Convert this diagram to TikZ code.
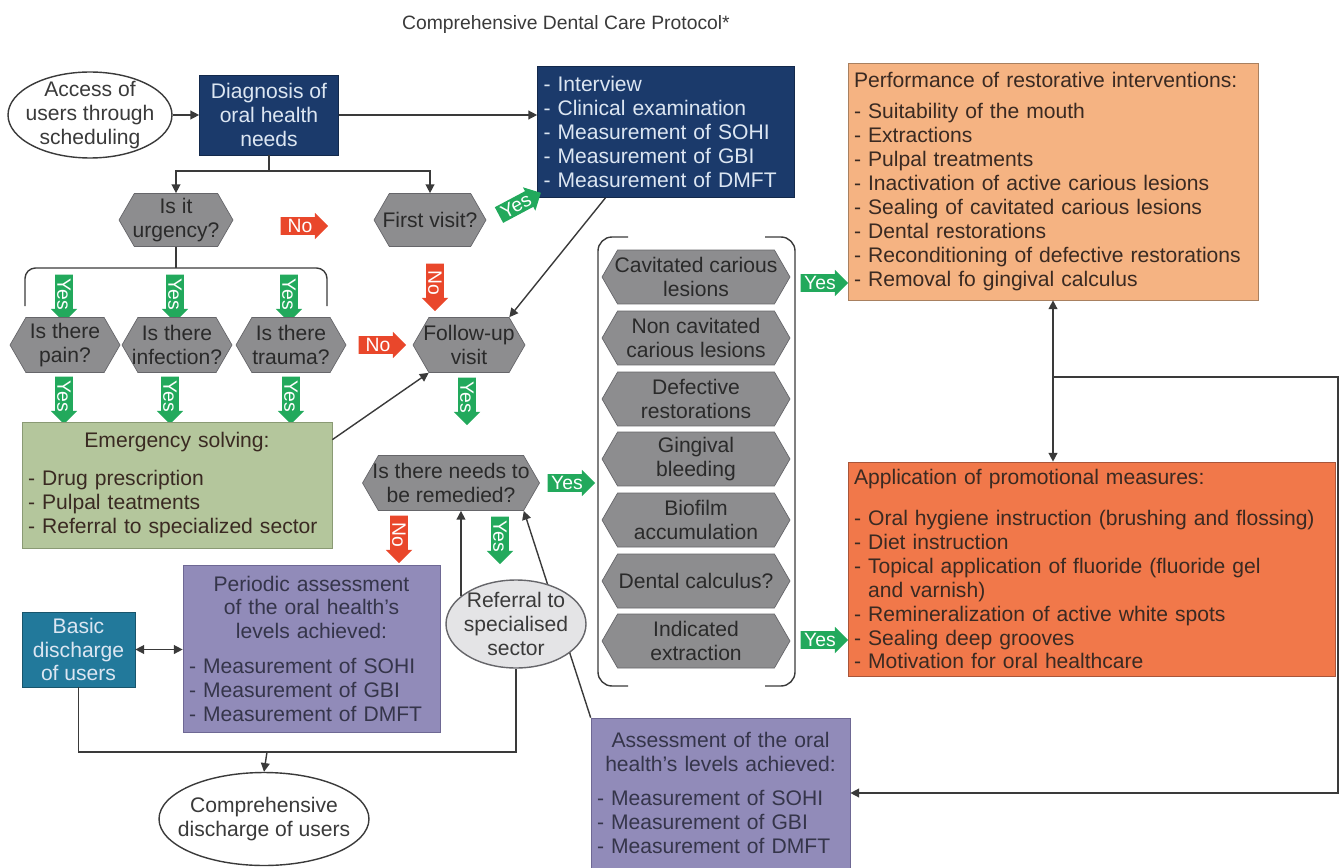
\documentclass[tikz,border=0pt]{standalone}
\usepackage{fontspec}
\setmainfont{Liberation Sans}
\usetikzlibrary{shapes.geometric,shapes.symbols,shapes.arrows,arrows.meta,calc}

\definecolor{navy}{HTML}{1B3A6B}
\definecolor{navytext}{HTML}{DCE6F2}
\definecolor{hexfill}{HTML}{8D8D8F}
\definecolor{hexline}{HTML}{66666A}
\definecolor{hextext}{HTML}{2A2A2A}
\definecolor{yesgreen}{HTML}{22A95C}
\definecolor{nored}{HTML}{E9472B}
\definecolor{peach}{HTML}{F5B382}
\definecolor{peachline}{HTML}{A88060}
\definecolor{coral}{HTML}{F1784A}
\definecolor{coralline}{HTML}{A8553A}
\definecolor{sage}{HTML}{B4C69C}
\definecolor{sageline}{HTML}{8A9A74}
\definecolor{lilac}{HTML}{918BB9}
\definecolor{lilacline}{HTML}{6E6894}
\definecolor{petrol}{HTML}{22799B}
\definecolor{inkgray}{HTML}{3A3A3A}
\definecolor{boxtext}{HTML}{3A2A22}
\definecolor{lilactext}{HTML}{35354A}
\definecolor{mist}{HTML}{E4E4E6}

\newcommand{\bodyfont}{\fontsize{12}{13.6}\selectfont}
\newcommand{\tagfont}{\fontsize{11}{12}\selectfont}
\newcommand{\titlefont}{\fontsize{11}{13}\selectfont}
\newcommand{\midline}[1]{\makebox[\linewidth]{#1}}

\tikzset{
  link/.style={draw=inkgray, line width=0.8pt},
  hexa/.style={signal, signal to=east and west, signal pointer angle=120,
    draw=hexline, fill=hexfill, text=hextext, align=center,
    inner xsep=-6pt, inner ysep=1pt, minimum height=1.06cm},
  colhexa/.style={hexa, minimum width=3.76cm, minimum height=1.08cm},
  yesarrow/.style={single arrow, fill=yesgreen, text=white, font=\tagfont,
    inner sep=1pt, single arrow head extend=2.5pt, minimum height=27pt},
  noarrow/.style={yesarrow, fill=nored},
  navybox/.style={rectangle, fill=navy, draw=navy!70!black, text=navytext},
  oval/.style={ellipse, draw=inkgray, line width=0.8pt, text=inkgray,
    align=center, inner xsep=-0.3cm, inner ysep=-0.12cm},
  listbox/.style={rectangle, draw=#1line, fill=#1, text=boxtext,
    align=left, inner xsep=0.12cm},
}

\begin{document}
\begin{tikzpicture}[x=0.02cm, y=-0.02cm, font=\bodyfont,
  >={Triangle[length=5pt,width=5pt]}]
  \useasboundingbox (0,0) rectangle (1341,868);
  %Title
  \node[font=\titlefont, text=inkgray] (title) at (566,25) {Comprehensive Dental Care Protocol*};

  %Entry and diagnosis
  \node[oval, minimum width=3.28cm, minimum height=1.72cm] (access) at (90,115) {Access of\\users through\\scheduling};
  \node[navybox, minimum width=2.78cm, minimum height=1.6cm, align=center] (diag) at (269,115) {Diagnosis of\\oral health\\needs};
  \node[navybox, minimum width=5.14cm, minimum height=2.62cm, text width=4.9cm,
    inner xsep=0.12cm, align=left] (interview) at (666,132)
    {- Interview\\- Clinical examination\\- Measurement of SOHI\\- Measurement of GBI\\- Measurement of DMFT};
  \node[listbox=peach, minimum width=8.2cm, minimum height=4.74cm, text width=7.96cm] (perf) at (1053,181.5)
    {Performance of restorative interventions:\\[4pt]
     - Suitability of the mouth\\- Extractions\\- Pulpal treatments\\
     - Inactivation of active carious lesions\\- Sealing of cavitated carious lesions\\
     - Dental restorations\\- Reconditioning of defective restorations\\- Removal fo gingival calculus};

  %First questions
  \node[hexa, minimum width=2.28cm] (urgency) at (176,220) {Is it\\urgency?};
  \node[hexa, minimum width=2.24cm] (first) at (430,220) {First visit?};
  \node[noarrow] (no1) at (300,226) {No};
  \node[yesarrow, rotate=28] (yes1) at (516,206) {Yes};
  \node[noarrow, rotate=-90] (no2) at (435,283) {No};

  %Urgent cases
  \node[yesarrow, rotate=-90] (yes2) at (64,294) {Yes};
  \node[yesarrow, rotate=-90] (yes3) at (175,294) {Yes};
  \node[yesarrow, rotate=-90] (yes4) at (289,294) {Yes};
  \node[hexa, minimum width=2.2cm, minimum height=1.1cm] (pain) at (65,345) {Is there\\pain?};
  \node[hexa, minimum width=2.2cm, minimum height=1.1cm] (infection) at (177,345) {Is there\\infection?};
  \node[hexa, minimum width=2.2cm, minimum height=1.1cm] (trauma) at (291,345) {Is there\\trauma?};
  \node[noarrow] (no3) at (378,345) {No};
  \node[yesarrow, rotate=-90] (yes5) at (64,396) {Yes};
  \node[yesarrow, rotate=-90] (yes6) at (170,396) {Yes};
  \node[yesarrow, rotate=-90] (yes7) at (291,396) {Yes};
  \node[listbox=sage, minimum width=6.2cm, minimum height=2.52cm, text width=5.96cm] (emergency) at (177,485)
    {\midline{Emergency solving:}\\[8pt]- Drug prescription\\- Pulpal teatments\\- Referral to specialized sector};

  %Follow-up
  \node[hexa, minimum width=2.24cm, minimum height=1.1cm] (followup) at (469,345) {Follow-up\\visit};
  \node[yesarrow, rotate=-90] (yes8) at (467,397) {Yes};
  \node[hexa, minimum width=3.54cm, minimum height=1.1cm] (remedied) at (451,483) {Is there needs to\\be remedied?};
  \node[yesarrow] (yes9) at (567,483) {Yes};
  \node[noarrow, rotate=-90] (no4) at (399,535) {No};
  \node[yesarrow, rotate=-90] (yes10) at (500,536) {Yes};

  %Needs
  \node[colhexa] (cavit) at (696,277) {Cavitated carious\\lesions};
  \node[colhexa] (noncavit) at (696,338) {Non cavitated\\carious lesions};
  \node[colhexa] (defect) at (696,399) {Defective\\restorations};
  \node[colhexa] (bleed) at (696,459) {Gingival\\bleeding};
  \node[colhexa] (biofilm) at (696,520) {Biofilm\\accumulation};
  \node[colhexa] (calculus) at (696,581) {Dental calculus?};
  \node[colhexa] (extract) at (696,641) {Indicated\\extraction};
  \node[yesarrow] (yes11) at (820,283) {Yes};
  \node[yesarrow] (yes12) at (820,640) {Yes};
  \node[listbox=coral, minimum width=9.74cm, minimum height=4.28cm, text width=9.5cm] (promo) at (1091.5,569)
    {Application of promotional measures:\\[10pt]
     - Oral hygiene instruction (brushing and flossing)\\- Diet instruction\\
     - Topical application of fluoride (fluoride gel\\\phantom{- }and varnish)\\
     - Remineralization of active white spots\\- Sealing deep grooves\\- Motivation for oral healthcare};

  %Discharge
  \node[rectangle, fill=petrol, draw=petrol!70!black, text=navytext, align=center,
    minimum width=2.26cm, minimum height=1.42cm] (basic) at (78.5,649.5) {Basic\\discharge\\of users};
  \node[listbox=lilac, text=lilactext, minimum width=5.14cm, minimum height=3.34cm, text width=4.9cm] (periodic) at (311.5,648.5)
    {\midline{Periodic assessment}\\\midline{of the oral health's}\\\midline{levels achieved:}\\[6pt]
     - Measurement of SOHI\\- Measurement of GBI\\- Measurement of DMFT};
  \node[oval, minimum width=4.2cm, minimum height=1.86cm] (comp) at (264,819) {Comprehensive\\discharge of users};
  \node[listbox=lilac, text=lilactext, minimum width=5.18cm, minimum height=3cm, text width=4.94cm] (assess) at (720.5,793)
    {\midline{Assessment of the oral}\\\midline{health's levels achieved:}\\[6pt]
     - Measurement of SOHI\\- Measurement of GBI\\- Measurement of DMFT};
  %the long link runs behind the referral oval
  \draw[link,->] (assess.north west) -- (remedied.south east);
  \node[oval, fill=mist, draw=hexline, minimum width=2.8cm, minimum height=1.76cm] (referral) at (516,624) {Referral to\\specialised\\sector};

  %Connectors
  \coordinate (fork) at (269,171);
  \coordinate (brk) at (176,268);
  \coordinate (join) at (267,752);
  \coordinate (tap) at (1053,377);
  \coordinate (edge) at (1338,377);
  \draw[link,->] (access) -- (diag);
  \draw[link,->] (diag) -- (diag -| interview.west);
  \draw[link] (diag.south) -- (fork);
  \draw[link,->] (fork) -| (urgency.north);
  \draw[link,->] (fork) -| (first.north);
  \draw[link] (urgency.south) -- (brk);
  \draw[link, rounded corners=6pt] (25,306) -- (25,268) -- (327,268) -- (327,306);
  \draw[link,->] ($(interview.south west)!0.265!(interview.south east)$) -- (followup.north east);
  \draw[link,->] ($(emergency.north east)+(0,18)$) -- (followup.south west);
  \draw[link,->] (referral.153) -- (referral.153 |- remedied.south);
  \draw[link,<->] (basic.east) -- (basic.east -| periodic.west);
  \draw[link] (basic.south) |- (join) -| (referral.south);
  \draw[link,->] (join) -- (comp.north);
  \draw[link,<->] (perf.south) -- (perf.south |- promo.north);
  \draw[link,->] (tap) -- (edge) |- (assess.east);
  %Bracket round the needs
  \draw[link, rounded corners=8pt] (628,237) -- (598,237) -- (598,686) -- (628,686);
  \draw[link, rounded corners=8pt] (765,237) -- (795,237) -- (795,686) -- (765,686);
\end{tikzpicture}
\end{document}
